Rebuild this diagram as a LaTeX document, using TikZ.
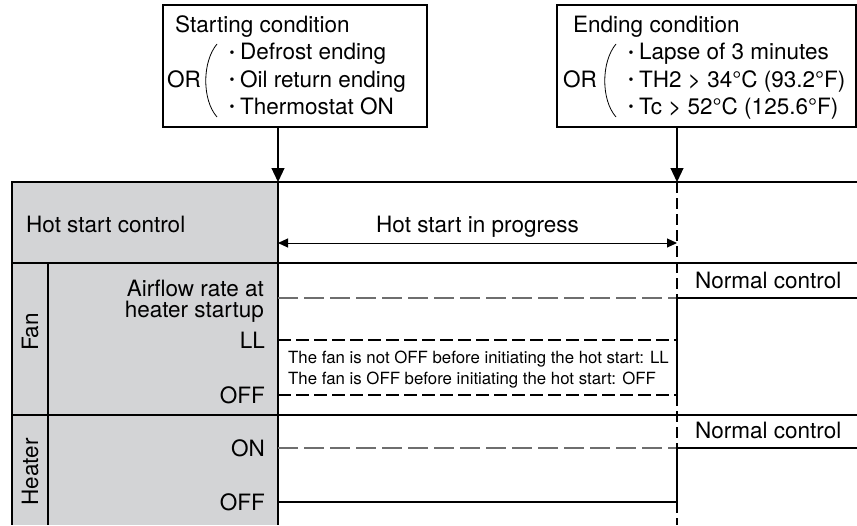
\documentclass[tikz,border=0pt]{standalone}
\usepackage{fontspec}
\setmainfont{TeX Gyre Heros}
\usetikzlibrary{arrows.meta}
\definecolor{panel}{HTML}{D3D4D6}
\definecolor{sig}{HTML}{6E6E6E}
\newcommand{\bdot}{\raisebox{2.5pt}{\fontsize{14}{14}\selectfont •}\hspace{5.5pt}}
\begin{document}
\begin{tikzpicture}[x=1pt,y=-1pt,
  lbl/.style={inner sep=0pt, font=\fontsize{22.5}{27}\selectfont},
  small/.style={inner sep=0pt, font=\fontsize{16.8}{20}\selectfont, anchor=base west},
  gridline/.style={line width=2.6pt},
  thindash/.style={sig, line width=1.3pt, dash pattern=on 20pt off 6pt},
  thickdash/.style={line width=2.6pt, dash pattern=on 13pt off 5pt},
  vdash/.style={line width=1.1pt, dash pattern=on 11pt off 5pt},
  sigline/.style={line width=2.6pt},
  condbox/.style={draw, line width=1.2pt, inner sep=0pt},
  trig/.style={line width=1.2pt, -{Triangle[length=14pt,width=13pt]}},
  spanarrow/.style={line width=1pt, {Triangle[length=10pt,width=9pt]}-{Triangle[length=10pt,width=9pt]}},
  paren/.style={line width=0.8pt}
]
\useasboundingbox (0,0) rectangle (857,525);

% ---- condition boxes
\node[condbox, minimum width=264pt, minimum height=122pt] (startbox) at (295,66) {};
\node[condbox, minimum width=299pt, minimum height=122pt] (endbox) at (706.5,66) {};

\node[lbl, anchor=base west] (sttitle) at (175,32) {Starting condition};
\node[lbl, anchor=base west] (stor) at (167,87) {OR};
\draw[paren] (217,44) .. controls (202,62) and (202,100) .. (217,117);
\node[lbl, anchor=base west] (st1) at (229.5,59.5) {\bdot Defrost ending};
\node[lbl, anchor=base west] (st2) at (229.5,87) {\bdot Oil return ending};
\node[lbl, anchor=base west] (st3) at (229.5,114) {\bdot Thermostat ON};

\node[lbl, anchor=base west] (entitle) at (573,32) {Ending condition};
\node[lbl, anchor=base west] (enor) at (563,87) {OR};
\draw[paren] (616,44) .. controls (601,62) and (601,100) .. (616,117);
\node[lbl, anchor=base west] (en1) at (628.5,59.5) {\bdot Lapse of 3 minutes};
\node[lbl, anchor=base west] (en2) at (628.5,87) {\bdot TH2 > 34°C (93.2°F)};
\node[lbl, anchor=base west] (en3) at (628.5,114) {\bdot Tc > 52°C (125.6°F)};

% ---- key coordinates
\coordinate (t0) at (278,182);
\coordinate (t1) at (677,182);

% ---- table
\fill[panel] (12,182) rectangle (278,525);
\draw[gridline] (12,182) -- (857,182);
\draw[gridline] (12,263) -- (857,263);
\draw[gridline] (12,415) -- (857,415);
\draw[gridline] (12,181) -- (12,525);
\draw[gridline] (278,181) -- (278,525);
\draw[gridline] (48,263) -- (48,525);

% ---- trigger arrows
\draw[trig] (startbox.south -| t0) -- (t0);
\draw[trig] (endbox.south -| t1) -- (t1);

% ---- labels in panel
\node[lbl, anchor=base west] (hsc) at (26,232) {Hot start control};
\node[lbl, anchor=base east] (air1) at (264,296) {Airflow rate at};
\node[lbl, anchor=base east] (air2) at (264,317) {heater startup};
\node[lbl, anchor=east] (fll) at (265,340) {LL};
\node[lbl, anchor=east] (foff) at (265,395) {OFF};
\node[lbl, anchor=east] (hon) at (265,448) {ON};
\node[lbl, anchor=east] (hoff) at (265,502) {OFF};
\node[lbl, rotate=90] (fan) at (30,332) {Fan};
\node[lbl, rotate=90] (heater) at (30,472) {Heater};

% ---- hot start span
\coordinate (a0) at (278,243);
\coordinate (a1) at (677,243);
\draw[spanarrow] (a0) -- (a1);
\node[lbl, anchor=base] (hsp) at (477.5,232) {Hot start in progress};

% ---- fan signals
\coordinate (fa0) at (278,298);
\coordinate (fa1) at (677,298);
\coordinate (fa2) at (857,298);
\coordinate (fl0) at (278,340);
\coordinate (fl1) at (677,340);
\coordinate (fo0) at (278,395);
\coordinate (fo1) at (677,395);
\draw[thindash] (fa0) -- (fa1);
\draw[sigline] (fa1) -- (fa2);
\draw[thickdash] (fl0) -- (fl1);
\draw[thickdash] (fo0) -- (fo1);
\draw[sigline] (fa1) -- (fo1);
\node[lbl, anchor=base west] (nc1) at (695,288) {Normal control};
\node[small] (note1) at (288,363.5) {The fan is not OFF before initiating the hot start: LL};
\node[small] (note2) at (288,384) {The fan is OFF before initiating the hot start: OFF};

% ---- heater signals
\coordinate (ho0) at (278,448);
\coordinate (ho1) at (677,448);
\coordinate (ho2) at (857,448);
\coordinate (hf0) at (278,502);
\coordinate (hf1) at (677,502);
\coordinate (bot) at (677,525);
\draw[thindash] (ho0) -- (ho1);
\draw[sigline] (ho1) -- (ho2);
\draw[sigline] (hf0) -- (hf1);
\draw[sigline] (ho1) -- (hf1);
\node[lbl, anchor=base west] (nc2) at (695,438) {Normal control};

% ---- end-of-hot-start dashed marker
\draw[vdash] (t1) -- (fa1);
\draw[vdash] (fo1) -- (ho1);
\draw[vdash] (hf1) -- (bot);
\end{tikzpicture}
\end{document}
